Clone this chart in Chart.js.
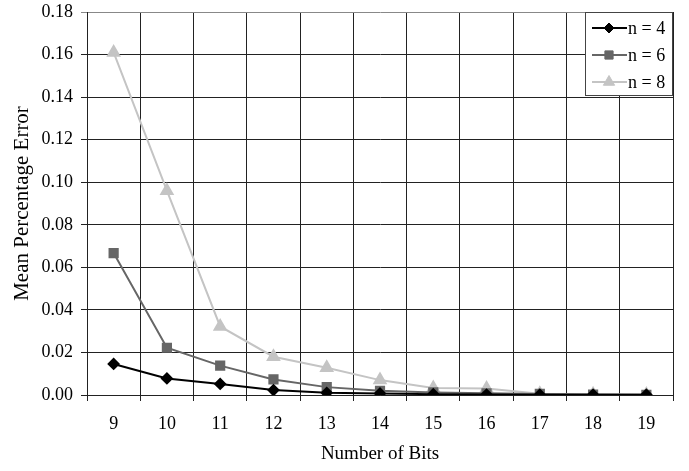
<!DOCTYPE html>
<html><head><meta charset="utf-8">
<script src="https://cdn.jsdelivr.net/npm/chart.js@4/dist/chart.umd.min.js"></script>
<style>html,body{margin:0;padding:0;background:#fff}#wrap{width:689px;height:471px}</style>
</head><body><div id="wrap"><canvas id="c" width="689" height="471"></canvas></div>
<script>
const categories = ['9','10','11','12','13','14','15','16','17','18','19'];
const seriesLabels = ['n = 4','n = 6','n = 8'];
const n4 = [0.0146,0.0078,0.0052,0.0023,0.0010,0.0007,0.0004,0.0002,0.0001,0.0001,0.0001];
const n6 = [0.0667,0.0222,0.0138,0.0073,0.0037,0.0020,0.0012,0.0008,0.0005,0.0002,0.0001];
const n8 = [0.1610,0.0960,0.0322,0.0180,0.0128,0.0070,0.0033,0.0030,0.0006,0.0003,0.0002];
const yTicks = [0,0.02,0.04,0.06,0.08,0.10,0.12,0.14,0.16,0.18];

const FONT = '"Liberation Serif", "Times New Roman", serif';

const legendPlugin = {
  id: 'boxLegend',
  afterDraw(chart) {
    const ctx = chart.ctx, a = chart.chartArea;
    const x0 = 585, y0 = a.top, w = a.right - 1 - x0, h = 83;
    ctx.save();
    ctx.fillStyle = '#fff';
    ctx.fillRect(x0, y0, w, h);
    ctx.strokeStyle = '#444';
    ctx.lineWidth = 1;
    ctx.strokeRect(x0 + 0.5, y0 + 0.5, w, h);
    ctx.font = '18px ' + FONT;
    ctx.textBaseline = 'middle';
    chart.data.datasets.forEach((ds, i) => {
      const y = y0 + 16 + i * 27;
      ctx.strokeStyle = ds.borderColor;
      ctx.lineWidth = 2;
      ctx.beginPath(); ctx.moveTo(x0 + 7, y); ctx.lineTo(x0 + 42, y); ctx.stroke();
      ctx.fillStyle = ds.pointBackgroundColor;
      ctx.strokeStyle = ds.pointBorderColor;
      ctx.lineWidth = 1;
      Chart.helpers.drawPoint(ctx, {pointStyle: ds.pointStyle, radius: ds.pointRadius, borderWidth: 1}, x0 + 24, y);
      ctx.fillStyle = '#000';
      ctx.fillText(ds.label, x0 + 43, y + 1);
    });
    ctx.restore();
  }
};

new Chart(document.getElementById('c'), {
  type: 'line',
  data: {
    labels: categories,
    datasets: [
      {label: seriesLabels[0], data: n4, borderColor: '#000000', backgroundColor: '#000000', pointBackgroundColor:'#000', pointBorderColor:'#000', borderWidth: 2, pointStyle: 'rectRot', pointRadius: 5, order: 1},
      {label: seriesLabels[1], data: n6, borderColor: '#666666', backgroundColor: '#666666', pointBackgroundColor:'#666', pointBorderColor:'#666', borderWidth: 2, pointStyle: 'rect', pointRadius: 5.8, order: 2},
      {label: seriesLabels[2], data: n8, borderColor: '#c4c4c4', backgroundColor: '#c4c4c4', pointBackgroundColor:'#c4c4c4', pointBorderColor:'#c4c4c4', borderWidth: 2, pointStyle: 'triangle', pointRadius: 6.5, order: 3}
    ]
  },
  options: {
    responsive: false,
    animation: false,
    layout: {padding: {top: 12, right: 16, left: 0, bottom: 0}},
    plugins: {legend: {display: false}, tooltip: {enabled: false}},
    elements: {line: {tension: 0}},
    scales: {
      x: {
        type: 'category',
        offset: true,
        grid: {offset: true, color: (c) => (c.index === categories.length ? '#888' : '#222'), lineWidth: 1, tickLength: 6, drawTicks: true},
        border: {color: '#222', width: 1},
        ticks: {color: '#000', font: {family: FONT, size: 18}, padding: 12, maxRotation: 0},
        title: {display: true, text: 'Number of Bits', color: '#000', font: {family: FONT, size: 19}, padding: {top: 10, bottom: 6}},
        afterFit(s) { s.height = 471 - 395; s.paddingLeft = 0; s.paddingRight = 0; }
      },
      y: {
        min: 0, max: 0.18,
        afterBuildTicks(s) { s.ticks = yTicks.map(v => ({value: v})); },
        grid: {color: (c) => (c.tick && c.tick.value >= 0.179 ? '#888' : '#222'), lineWidth: 1, tickLength: 6},
        border: {color: '#222', width: 1},
        ticks: {color: '#000', font: {family: FONT, size: 18}, padding: 8, callback: (v) => Number(v).toFixed(2)},
        title: {display: true, text: 'Mean Percentage Error', color: '#000', font: {family: FONT, size: 21}, padding: {top: 10, bottom: 4}},
        afterFit(s) { s.width = 87; s.paddingTop = 0; s.paddingBottom = 0; }
      }
    }
  },
  plugins: [legendPlugin]
});
</script>
</body></html>
